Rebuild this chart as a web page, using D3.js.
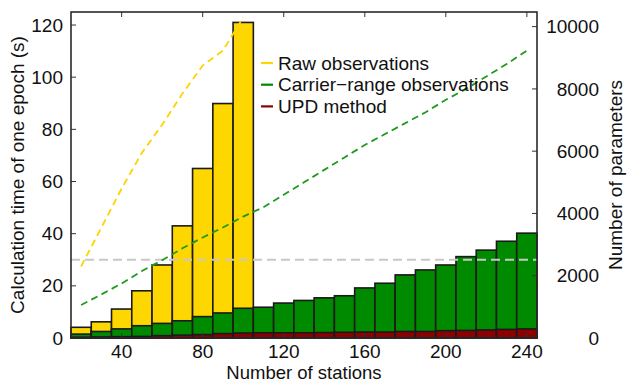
<!DOCTYPE html>
<html>
<head>
<meta charset="utf-8">
<script src="https://cdn.jsdelivr.net/npm/d3@7"></script>
<style>
  body { margin: 0; background: #fff; }
  svg text { font-family: "Liberation Sans", Arial, sans-serif; fill: #111; }
</style>
</head>
<body>
<svg id="chart" width="627" height="383"></svg>
<script>
// data
const stations = [20, 30, 40, 50, 60, 70, 80, 90, 100, 110, 120, 130, 140, 150, 160, 170, 180, 190, 200, 210, 220, 230, 240];
const rawTime = [4.1, 6.2, 11.1, 18.1, 28.0, 43.0, 65.0, 89.9, 121.0];
const carrierTime = [1.5, 2.5, 3.5, 4.7, 5.6, 6.6, 8.2, 9.6, 11.4, 11.8, 13.4, 14.4, 15.4, 16.2, 19.2, 21.0, 24.2, 26.1, 28.0, 31.2, 33.7, 37.1, 40.2];
const updTime = [0.3, 0.4, 0.5, 0.6, 0.9, 1.1, 1.3, 1.7, 1.9, 2.0, 2.0, 2.0, 2.1, 2.2, 2.3, 2.3, 2.5, 2.5, 2.8, 2.9, 3.1, 3.3, 3.5];
const rawParams = [2300, 3550, 4800, 5950, 6850, 7850, 8750, 9230, 10300];
const carrierParams = [1060, 1400, 1750, 2150, 2500, 2880, 3230, 3550, 3900, 4200, 4600, 5000, 5400, 5800, 6200, 6550, 6900, 7250, 7650, 8000, 8400, 8800, 9230];
const refLine = 30;
const xTicks = [40, 80, 120, 160, 200, 240];
const leftTicks = [0, 20, 40, 60, 80, 100, 120];
const rightTicks = [0, 2000, 4000, 6000, 8000, 10000];
const legendItems = [
  { name: 'Raw observations', color: '#ffd700' },
  { name: 'Carrier\u2212range observations', color: '#008a00' },
  { name: 'UPD method', color: '#8b0000' }
];

const svg = d3.select('#chart');
const m = { left: 71, right: 537, top: 12, bottom: 338 };

const x = d3.scaleLinear().domain([15, 245]).range([m.left, m.right]);
const yL = d3.scaleLinear().domain([0, 125]).range([m.bottom, m.top]);
const yR = d3.scaleLinear().domain([0, 10470]).range([m.bottom, m.top]);

const bars = svg.append('g');
function drawBars(vals, color) {
  bars.selectAll(null)
    .data(vals.map((v, i) => ({ s: stations[i], v })))
    .enter()
    .append('rect')
    .attr('x', d => x(d.s - 5))
    .attr('width', x(25) - x(15))
    .attr('y', d => yL(d.v))
    .attr('height', d => yL(0) - yL(d.v))
    .attr('fill', color)
    .attr('stroke', '#1a1a1a')
    .attr('stroke-width', 1.6);
}
drawBars(rawTime, '#ffd700');
drawBars(carrierTime, '#008a00');
drawBars(updTime, '#8b0000');

// reference line
svg.append('line')
  .attr('x1', m.left).attr('x2', m.right)
  .attr('y1', yL(refLine)).attr('y2', yL(refLine))
  .attr('stroke', '#c8c8c8')
  .attr('stroke-width', 1.8)
  .attr('stroke-dasharray', '9,5');

// parameter lines
const line = d3.line().x(d => x(d.s)).y(d => yR(d.v));
function drawLine(vals, color) {
  svg.append('path')
    .datum(vals.map((v, i) => ({ s: stations[i], v })))
    .attr('d', line)
    .attr('fill', 'none')
    .attr('stroke', color)
    .attr('stroke-width', 1.8)
    .attr('stroke-dasharray', '7,4.5');
}
drawLine(rawParams, '#ffd200');
drawLine(carrierParams, '#1f9a1f');

// ticks (inward)
const ticks = svg.append('g').attr('stroke', '#333').attr('stroke-width', 1);
xTicks.forEach(t => {
  ticks.append('line').attr('x1', x(t)).attr('x2', x(t)).attr('y1', m.bottom).attr('y2', m.bottom - 5);
  ticks.append('line').attr('x1', x(t)).attr('x2', x(t)).attr('y1', m.top).attr('y2', m.top + 5);
});
leftTicks.forEach(t => {
  ticks.append('line').attr('x1', m.left).attr('x2', m.left + 5).attr('y1', yL(t)).attr('y2', yL(t));
});
rightTicks.forEach(t => {
  ticks.append('line').attr('x1', m.right).attr('x2', m.right - 5).attr('y1', yR(t)).attr('y2', yR(t));
});

// frame
svg.append('rect')
  .attr('x', m.left).attr('y', m.top)
  .attr('width', m.right - m.left).attr('height', m.bottom - m.top)
  .attr('fill', 'none')
  .attr('stroke', '#2a2a2a')
  .attr('stroke-width', 1.6);

// tick labels
svg.append('g').selectAll('text').data(xTicks).enter().append('text')
  .attr('x', d => x(d)).attr('y', 358)
  .attr('text-anchor', 'middle')
  .attr('font-size', 19)
  .text(d => d);
svg.append('g').selectAll('text').data(leftTicks).enter().append('text')
  .attr('x', 63).attr('y', d => yL(d)).attr('dy', '0.35em')
  .attr('text-anchor', 'end')
  .attr('font-size', 19)
  .text(d => d);
svg.append('g').selectAll('text').data(rightTicks).enter().append('text')
  .attr('x', 599).attr('y', d => yR(d)).attr('dy', '0.35em')
  .attr('text-anchor', 'end')
  .attr('font-size', 19)
  .text(d => d);

// axis titles
svg.append('text')
  .attr('x', (m.left + m.right) / 2).attr('y', 379)
  .attr('text-anchor', 'middle').attr('font-size', 18.5)
  .text('Number of stations');
svg.append('text')
  .attr('transform', `translate(24,${(m.top + m.bottom) / 2}) rotate(-90)`)
  .attr('text-anchor', 'middle').attr('font-size', 19)
  .text('Calculation time of one epoch (s)');
svg.append('text')
  .attr('transform', `translate(622,${(m.top + m.bottom) / 2}) rotate(-90)`)
  .attr('text-anchor', 'middle').attr('font-size', 19)
  .text('Number of parameters');

// legend
const lg = svg.append('g').attr('transform', 'translate(261,63)');
legendItems.forEach((d, i) => {
  const row = lg.append('g').attr('transform', `translate(0,${i * 21.7})`);
  row.append('line').attr('x1', 0).attr('x2', 12).attr('stroke', d.color).attr('stroke-width', 2.2);
  row.append('text').attr('x', 17).attr('dy', '0.35em').attr('font-size', 19).text(d.name);
});
</script>
</body>
</html>
